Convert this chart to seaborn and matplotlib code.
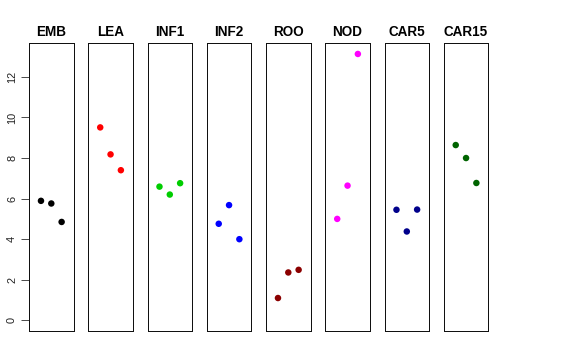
import matplotlib
matplotlib.use("Agg")
import matplotlib.pyplot as plt
import seaborn as sns
import pandas as pd

tissues = ["EMB", "LEA", "INF1", "INF2", "ROO", "NOD", "CAR5", "CAR15"]
colors = ["#000000", "#FF0000", "#00CD00", "#0000FF", "#8B0000", "#FF00FF", "#00008B", "#006400"]
replicate = [1, 2, 3]
emb = [5.89, 5.76, 4.85]
lea = [9.51, 8.18, 7.40]
inf1 = [6.59, 6.20, 6.76]
inf2 = [4.76, 5.68, 4.00]
roo = [1.10, 2.36, 2.49]
nod = [5.00, 6.64, 13.13]
car5 = [5.45, 4.38, 5.46]
car15 = [8.64, 8.00, 6.77]
values = [emb, lea, inf1, inf2, roo, nod, car5, car15]
yticks = [0, 2, 4, 6, 8, 10, 12]

sns.set_style("white")
plt.rcParams["font.family"] = ["Liberation Sans", "DejaVu Sans"]
plt.rcParams["text.color"] = "black"
plt.rcParams["ytick.color"] = "black"

W, H = 576, 360
fig = plt.figure(figsize=(8, 5), dpi=72)
ymax = max(max(v) for v in values)
pad = 0.04 * ymax
left0, pw, step = 29.0, 44.6, 59.25
top, bottom = 43.3, 331.0
for i, (name, col, vals) in enumerate(zip(tissues, colors, values)):
    ax = fig.add_axes([(left0 + i * step) / W, (H - bottom) / H, pw / W, (bottom - top) / H])
    df = pd.DataFrame({"rep": replicate, "val": vals})
    sns.scatterplot(data=df, x="rep", y="val", color=col, s=42, edgecolor="none", ax=ax, legend=False)
    ax.set_xlim(-0.16, 4.16)
    ax.set_ylim(-pad, ymax + pad)
    ax.set_xticks([])
    ax.set_xlabel("")
    ax.set_ylabel("")
    for sp in ax.spines.values():
        sp.set_visible(True)
        sp.set_color("#111111")
        sp.set_linewidth(1.0)
    ax.set_title(name, fontsize=13.5, fontweight="bold", pad=7, color="black")
    if i == 0:
        ax.set_yticks(yticks)
        ax.set_yticklabels([str(t) for t in yticks], rotation=90, va="center", fontsize=11, color="#222222")
        ax.tick_params(axis="y", direction="out", length=8, width=0.8, pad=4, left=True, color="#222222")
    else:
        ax.set_yticks([])

fig.savefig("out.png", dpi=72)
